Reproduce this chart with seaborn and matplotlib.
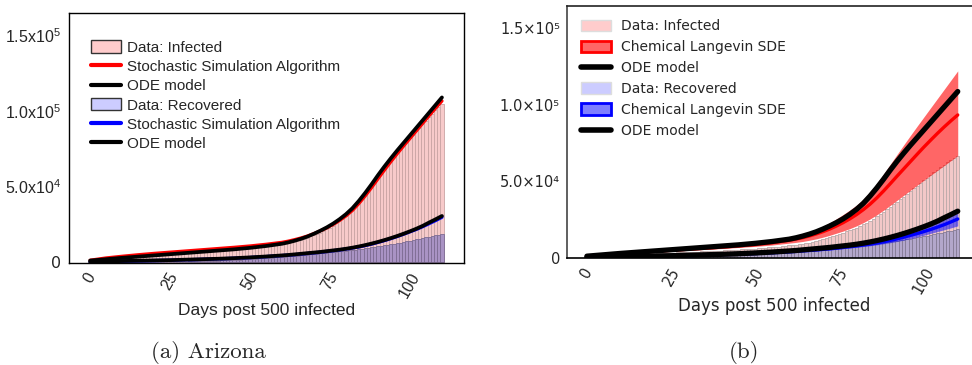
import numpy as np
import seaborn as sns
import matplotlib.pyplot as plt
from matplotlib.patches import Patch
from matplotlib.lines import Line2D

# daily data (days post 500 infected)
days = list(range(111))
infected_a = [500, 700, 900, 1100, 1300, 1550, 1800, 2050, 2300, 2550,
              2800, 3000, 3200, 3400, 3600, 3800, 3950, 4150, 4300, 4500,
              4650, 4800, 5000, 5150, 5300, 5450, 5600, 5800, 5950, 6100,
              6250, 6400, 6600, 6750, 6900, 7050, 7200, 7400, 7550, 7700,
              7850, 8000, 8200, 8350, 8500, 8700, 8850, 9000, 9200, 9400,
              9600, 9800, 10000, 10250, 10500, 10750, 11000, 11300, 11600, 11950,
              12300, 12700, 13100, 13550, 14000, 14500, 15100, 15700, 16400, 17100,
              17900, 18800, 19700, 20700, 21800, 23000, 24300, 25700, 27200, 28800,
              30500, 32300, 34300, 36500, 38800, 41500, 44200, 47000, 49800, 52600,
              55500, 58500, 61400, 64200, 66900, 69500, 72000, 74500, 77000, 79400,
              81800, 84100, 86400, 88700, 91000, 93300, 95600, 97900, 100200, 102500,
              104800]
recovered = [0, 0, 0, 0, 0, 0, 0, 0, 0, 0,
             50, 60, 70, 80, 100, 120, 140, 160, 180, 200,
             230, 260, 290, 320, 350, 380, 420, 460, 500, 540,
             580, 620, 680, 740, 800, 870, 940, 1010, 1080, 1160,
             1240, 1320, 1400, 1490, 1580, 1680, 1780, 1880, 1990, 2100,
             2220, 2340, 2460, 2590, 2720, 2860, 3000, 3150, 3300, 3460,
             3620, 3790, 3960, 4140, 4320, 4500, 4690, 4880, 5080, 5280,
             5480, 5690, 5900, 6110, 6330, 6550, 6770, 7000, 7230, 7470,
             7710, 7960, 8210, 8470, 8730, 9000, 9280, 9570, 9870, 10180,
             10500, 10830, 11170, 11520, 11880, 12250, 12630, 13020, 13420, 13830,
             14250, 14680, 15120, 15570, 16030, 16500, 16980, 17470, 17970, 18300,
             18700]
infected_b = [400, 550, 700, 850, 1000, 1150, 1300, 1450, 1600, 1750,
              1900, 2000, 2100, 2200, 2300, 2400, 2500, 2600, 2700, 2800,
              2900, 3000, 3100, 3200, 3300, 3400, 3500, 3600, 3700, 3800,
              3900, 4000, 4100, 4200, 4300, 4400, 4500, 4600, 4700, 4800,
              4900, 5000, 5100, 5200, 5300, 5450, 5600, 5750, 5900, 6050,
              6200, 6350, 6500, 6700, 6900, 7100, 7300, 7500, 7750, 8000,
              8250, 8500, 8800, 9100, 9400, 9700, 10100, 10500, 10900, 11500,
              12200, 12800, 13500, 14200, 15000, 15800, 16600, 17400, 18200, 19000,
              19800, 20900, 22000, 23200, 24500, 25800, 27200, 28700, 30200, 31800,
              33400, 35000, 36700, 38400, 40100, 41900, 43700, 45500, 47300, 49100,
              50900, 52600, 54300, 56000, 57700, 59300, 60900, 62500, 64000, 65400,
              66600]

# model curves (thousands): every 5 days up to day 55, then every 2 days
model_days = list(range(0, 60, 5)) + list(range(60, 111, 2))
ode_infected = [1.2, 2.1, 3.0, 3.8, 4.6, 5.4, 6.2, 7.0, 7.8, 8.6, 9.6, 10.8,
                12.3, 13.2, 14.3, 15.6, 17.1, 18.9, 20.9, 23.1, 25.6, 28.5, 31.8, 35.7, 40.5,
                45.8, 51.5, 57.5, 63.2, 68.6, 73.8, 78.8, 83.8, 88.8, 93.8, 98.8, 103.8, 108.8]
ssa_infected = [1.4, 2.9, 4.0, 5.0, 5.9, 6.7, 7.5, 8.3, 9.1, 9.9, 10.8, 11.9,
                13.2, 14.0, 15.0, 16.1, 17.4, 19.0, 20.8, 22.8, 25.0, 27.7, 30.7, 34.3, 38.8,
                43.9, 49.4, 55.2, 60.9, 66.4, 71.7, 76.8, 81.8, 86.8, 91.8, 96.8, 101.7, 106.5]
ode_recovered = [0.3, 0.6, 0.9, 1.1, 1.3, 1.5, 1.8, 2.1, 2.4, 2.8, 3.3, 3.9,
                 4.6, 4.9, 5.3, 5.7, 6.1, 6.5, 6.9, 7.4, 7.9, 8.4, 9.0, 9.7, 10.5,
                 11.4, 12.4, 13.5, 14.7, 16.0, 17.4, 18.9, 20.5, 22.2, 24.1, 26.3, 28.4, 30.6]
ssa_recovered = [0.3, 0.5, 0.8, 1.0, 1.2, 1.4, 1.7, 2.0, 2.3, 2.7, 3.2, 3.8,
                 4.5, 4.8, 5.1, 5.5, 5.9, 6.3, 6.7, 7.2, 7.7, 8.2, 8.8, 9.5, 10.2,
                 11.1, 12.1, 13.2, 14.4, 15.7, 17.1, 18.6, 20.2, 21.8, 23.6, 25.6, 27.6, 29.8]
sde_inf_mean = [1.0, 1.9, 2.8, 3.6, 4.3, 5.0, 5.7, 6.4, 7.1, 7.9, 8.8, 10.0,
                11.6, 12.4, 13.3, 14.4, 15.7, 17.2, 18.9, 20.9, 23.1, 25.6, 28.4, 31.6, 35.2,
                39.3, 43.8, 48.6, 53.5, 58.3, 63.1, 67.9, 72.6, 77.1, 81.5, 85.7, 89.7, 93.5]
sde_inf_high = [1.1, 2.1, 3.1, 4.0, 4.8, 5.6, 6.4, 7.2, 8.0, 8.9, 9.9, 11.3,
                13.3, 14.2, 15.3, 16.7, 18.5, 20.6, 23.0, 25.6, 28.4, 31.4, 34.6, 38.5, 43.3,
                48.8, 54.9, 61.3, 67.7, 74.0, 80.2, 86.3, 92.3, 98.3, 104.3, 110.3, 116.3, 122.3]
sde_inf_low = [0.9, 1.7, 2.5, 3.2, 3.8, 4.4, 5.0, 5.6, 6.2, 6.9, 7.6, 8.5,
               9.7, 10.2, 10.8, 11.6, 12.5, 13.6, 14.8, 16.2, 17.6, 19.2, 21.0, 23.1, 25.5,
               28.2, 31.2, 34.4, 37.7, 41.0, 44.3, 47.6, 50.9, 54.1, 57.3, 60.5, 63.7, 66.9]
sde_rec_mean = [0.3, 0.5, 0.8, 1.0, 1.2, 1.4, 1.6, 1.9, 2.2, 2.5, 2.9, 3.4,
                4.0, 4.3, 4.6, 4.9, 5.2, 5.6, 6.0, 6.4, 6.9, 7.4, 7.9, 8.5, 9.1,
                9.8, 10.6, 11.5, 12.5, 13.6, 14.8, 16.0, 17.3, 18.7, 20.2, 21.8, 23.6, 25.5]
sde_rec_high = [0.3, 0.6, 0.9, 1.1, 1.3, 1.5, 1.8, 2.1, 2.4, 2.8, 3.2, 3.8,
                4.5, 4.8, 5.1, 5.5, 5.9, 6.3, 6.8, 7.3, 7.8, 8.4, 9.0, 9.7, 10.4,
                11.2, 12.1, 13.1, 14.3, 15.6, 17.0, 18.5, 20.1, 21.8, 23.6, 25.5, 27.4, 29.3]
sde_rec_low = [0.2, 0.4, 0.7, 0.9, 1.1, 1.3, 1.5, 1.7, 2.0, 2.3, 2.6, 3.0,
               3.5, 3.8, 4.1, 4.4, 4.7, 5.0, 5.3, 5.7, 6.1, 6.5, 7.0, 7.5, 8.0,
               8.6, 9.3, 10.0, 10.8, 11.7, 12.7, 13.8, 14.9, 16.1, 17.3, 18.5, 19.7, 21.0]

xticks = [0, 25, 50, 75, 100]
yticks = [0, 50000, 100000, 150000]

k = lambda v: np.array(v) * 1000

sns.set_style('white')
plt.rcParams['mathtext.fontset'] = 'custom'
plt.rcParams['mathtext.rm'] = 'Liberation Sans'
plt.rcParams['mathtext.it'] = 'Liberation Sans:italic'

fig = plt.figure(figsize=(9.72, 3.65), dpi=100)
ax1 = fig.add_axes([69/972, 102/365, 395/972, 250/365])
ax2 = fig.add_axes([567/972, 107/365, 414/972, 252/365])

# ---------------- panel (a)
sns.barplot(x=days, y=infected_a, native_scale=True, width=1.0, color='#f7caca',
            saturation=1, edgecolor='#c9a4a4', linewidth=0.6, errorbar=None, ax=ax1)
sns.barplot(x=days, y=recovered, native_scale=True, width=1.0, color='#a993c4',
            saturation=1, edgecolor='#7d6c93', linewidth=0.6, errorbar=None, ax=ax1)
sns.lineplot(x=model_days, y=k(ssa_infected), color='red', lw=2.4, zorder=3, ax=ax1)
sns.lineplot(x=model_days, y=k(ssa_recovered), color='blue', lw=2.4, zorder=3, ax=ax1)
sns.lineplot(x=model_days, y=k(ode_infected), color='black', lw=2.7, zorder=4,
             solid_capstyle='round', ax=ax1)
sns.lineplot(x=model_days, y=k(ode_recovered), color='black', lw=2.7, zorder=4,
             solid_capstyle='round', ax=ax1)

ax1.set_xlim(-6.6, 116.9)
ax1.set_ylim(-400, 164500)
ax1.set_xticks(xticks)
ax1.set_xticklabels([str(t) for t in xticks], rotation=60, ha='center', va='top',
                    fontsize=11.5, family='Liberation Sans')
ax1.set_yticks(yticks)
ax1.set_yticklabels(['0', r'$5.0\mathrm{x}10^4$', r'$1.0\mathrm{x}10^5$', r'$1.5\mathrm{x}10^5$'],
                    fontsize=11.5)
ax1.tick_params(direction='in', length=3, width=0.8, pad=6)
ax1.tick_params(axis='x', pad=5)
for s in ax1.spines.values():
    s.set_color('black')
    s.set_linewidth(1.0)
ax1.set_xlabel('Days post 500 infected', fontsize=12.5, family='Liberation Sans', labelpad=2)
ax1.set_ylabel('')

h1 = [Patch(facecolor='#ffcccc', edgecolor='#333333', lw=1.0),
      Line2D([], [], color='red', lw=3),
      Line2D([], [], color='black', lw=3),
      Patch(facecolor='#ccccff', edgecolor='#333333', lw=1.0),
      Line2D([], [], color='blue', lw=3),
      Line2D([], [], color='black', lw=3)]
l1 = ['Data: Infected', 'Stochastic Simulation Algorithm', 'ODE model',
      'Data: Recovered', 'Stochastic Simulation Algorithm', 'ODE model']
ax1.legend(h1, l1, loc='upper left', bbox_to_anchor=(0.04, 0.915), frameon=False,
           prop={'family': 'Liberation Sans', 'size': 11}, labelspacing=0.32,
           handlelength=2.0, handleheight=0.85, handletextpad=0.35, borderaxespad=0)

# ---------------- panel (b)
sns.barplot(x=days, y=infected_b, native_scale=True, width=1.0, color='#f2c8c8',
            saturation=1, edgecolor='#bba9a9', linewidth=0.6, errorbar=None, ax=ax2)
sns.barplot(x=days, y=recovered, native_scale=True, width=1.0, color='#b3a7cb',
            saturation=1, edgecolor='#857b96', linewidth=0.6, errorbar=None, ax=ax2)
ax2.fill_between(model_days, k(sde_inf_low), k(sde_inf_high), color='red', alpha=0.6,
                 lw=0, zorder=2)
ax2.fill_between(model_days, k(sde_rec_low), k(sde_rec_high), color='blue', alpha=0.5,
                 lw=0, zorder=2)
sns.lineplot(x=model_days, y=k(sde_inf_mean), color='red', lw=2.4, zorder=3, ax=ax2)
sns.lineplot(x=model_days, y=k(sde_rec_mean), color='blue', lw=2.4, zorder=3, ax=ax2)
sns.lineplot(x=model_days, y=k(ode_infected), color='black', lw=3.8, zorder=4,
             solid_capstyle='round', ax=ax2)
sns.lineplot(x=model_days, y=k(ode_recovered), color='black', lw=3.8, zorder=4,
             solid_capstyle='round', ax=ax2)

ax2.set_xlim(-5.9, 116.9)
ax2.set_ylim(0, 164700)
ax2.set_xticks(xticks)
ax2.set_xticklabels([str(t) for t in xticks], rotation=60, ha='center', va='top',
                    fontsize=10.5, family='DejaVu Sans')
ax2.set_yticks(yticks)
ax2.set_yticklabels(['0', '5.0×10⁴', '1.0×10⁵', '1.5×10⁵'], fontsize=10.5,
                    family='DejaVu Sans')
ax2.tick_params(axis='x', direction='in', length=3, width=0.8, pad=5)
ax2.tick_params(axis='y', direction='out', length=3, width=0.8, pad=2)
ax2.spines['left'].set_color('#444444')
ax2.spines['top'].set_color('#222222')
ax2.spines['bottom'].set_color('black')
ax2.spines['right'].set_visible(False)
for s in ax2.spines.values():
    s.set_linewidth(1.2)
ax2.set_xlabel('Days post 500 infected', fontsize=12, family='DejaVu Sans', labelpad=0)
ax2.set_ylabel('')

h2 = [Patch(facecolor='#ffcccc', edgecolor='#dddddd', lw=1.0),
      Patch(facecolor=(1, 0, 0, 0.6), edgecolor='red', lw=2),
      Line2D([], [], color='black', lw=4),
      Patch(facecolor='#ccccff', edgecolor='#dddddd', lw=1.0),
      Patch(facecolor=(0, 0, 1, 0.5), edgecolor='blue', lw=2),
      Line2D([], [], color='black', lw=4)]
l2 = ['Data: Infected', 'Chemical Langevin SDE', 'ODE model',
      'Data: Recovered', 'Chemical Langevin SDE', 'ODE model']
ax2.legend(h2, l2, loc='upper left', bbox_to_anchor=(0.02, 0.97), frameon=False,
           prop={'family': 'DejaVu Sans', 'size': 10}, labelspacing=0.5,
           handlelength=2.2, handleheight=0.9, handletextpad=0.7, borderaxespad=0)

# captions
fig.text(208/972, 1 - 352/365, '(a) Arizona', ha='center', va='center',
         fontsize=16.5, family=['cmr10', 'DejaVu Serif'])
fig.text(744/972, 1 - 352/365, '(b)', ha='center', va='center',
         fontsize=16.5, family=['cmr10', 'DejaVu Serif'])

fig.savefig('out.png', dpi=100)
